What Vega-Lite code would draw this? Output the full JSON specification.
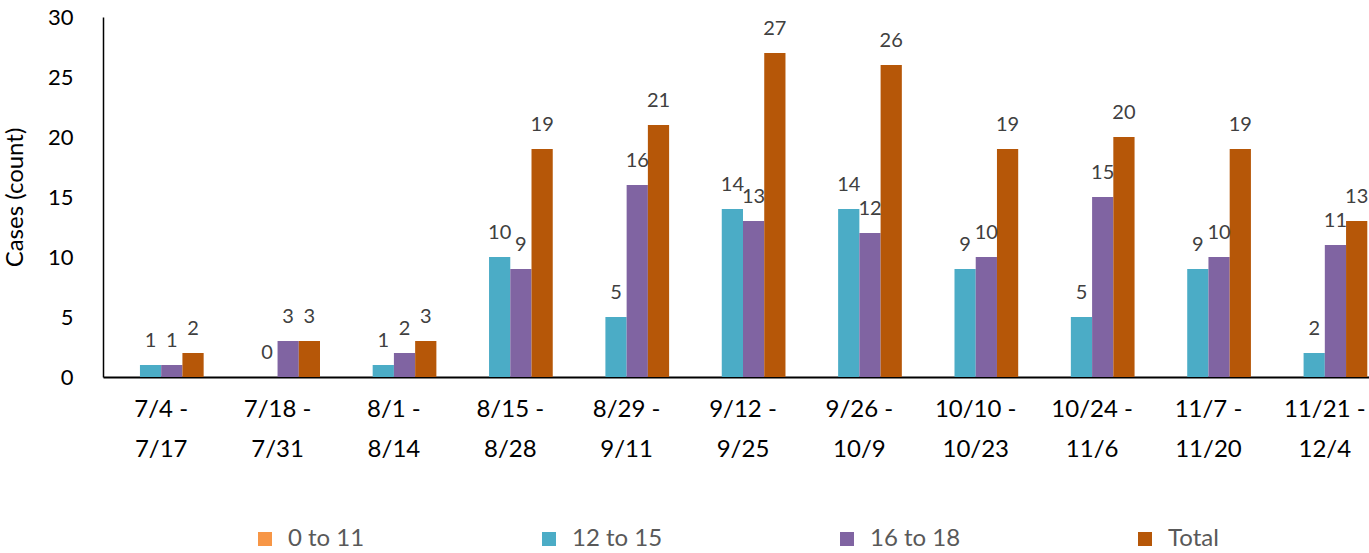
{
  "$schema": "https://vega.github.io/schema/vega-lite/v6.json",
  "width": 1266,
  "height": 360,
  "autosize": "none",
  "padding": {"left": 103, "top": 17, "right": 0, "bottom": 176},
  "background": "white",
  "config": {
    "font": "Lato",
    "view": {"stroke": null}
  },
  "data": {
    "values": [
      {"period": "7/4 - 7/17", "group": "0 to 11", "cases": null},
      {"period": "7/4 - 7/17", "group": "12 to 15", "cases": 1},
      {"period": "7/4 - 7/17", "group": "16 to 18", "cases": 1},
      {"period": "7/4 - 7/17", "group": "Total", "cases": 2},
      {"period": "7/18 - 7/31", "group": "0 to 11", "cases": null},
      {"period": "7/18 - 7/31", "group": "12 to 15", "cases": 0},
      {"period": "7/18 - 7/31", "group": "16 to 18", "cases": 3},
      {"period": "7/18 - 7/31", "group": "Total", "cases": 3},
      {"period": "8/1 - 8/14", "group": "0 to 11", "cases": null},
      {"period": "8/1 - 8/14", "group": "12 to 15", "cases": 1},
      {"period": "8/1 - 8/14", "group": "16 to 18", "cases": 2},
      {"period": "8/1 - 8/14", "group": "Total", "cases": 3},
      {"period": "8/15 - 8/28", "group": "0 to 11", "cases": null},
      {"period": "8/15 - 8/28", "group": "12 to 15", "cases": 10},
      {"period": "8/15 - 8/28", "group": "16 to 18", "cases": 9},
      {"period": "8/15 - 8/28", "group": "Total", "cases": 19},
      {"period": "8/29 - 9/11", "group": "0 to 11", "cases": null},
      {"period": "8/29 - 9/11", "group": "12 to 15", "cases": 5},
      {"period": "8/29 - 9/11", "group": "16 to 18", "cases": 16},
      {"period": "8/29 - 9/11", "group": "Total", "cases": 21},
      {"period": "9/12 - 9/25", "group": "0 to 11", "cases": null},
      {"period": "9/12 - 9/25", "group": "12 to 15", "cases": 14},
      {"period": "9/12 - 9/25", "group": "16 to 18", "cases": 13},
      {"period": "9/12 - 9/25", "group": "Total", "cases": 27},
      {"period": "9/26 - 10/9", "group": "0 to 11", "cases": null},
      {"period": "9/26 - 10/9", "group": "12 to 15", "cases": 14},
      {"period": "9/26 - 10/9", "group": "16 to 18", "cases": 12},
      {"period": "9/26 - 10/9", "group": "Total", "cases": 26},
      {"period": "10/10 - 10/23", "group": "0 to 11", "cases": null},
      {"period": "10/10 - 10/23", "group": "12 to 15", "cases": 9},
      {"period": "10/10 - 10/23", "group": "16 to 18", "cases": 10},
      {"period": "10/10 - 10/23", "group": "Total", "cases": 19},
      {"period": "10/24 - 11/6", "group": "0 to 11", "cases": null},
      {"period": "10/24 - 11/6", "group": "12 to 15", "cases": 5},
      {"period": "10/24 - 11/6", "group": "16 to 18", "cases": 15},
      {"period": "10/24 - 11/6", "group": "Total", "cases": 20},
      {"period": "11/7 - 11/20", "group": "0 to 11", "cases": null},
      {"period": "11/7 - 11/20", "group": "12 to 15", "cases": 9},
      {"period": "11/7 - 11/20", "group": "16 to 18", "cases": 10},
      {"period": "11/7 - 11/20", "group": "Total", "cases": 19},
      {"period": "11/21 - 12/4", "group": "0 to 11", "cases": null},
      {"period": "11/21 - 12/4", "group": "12 to 15", "cases": 2},
      {"period": "11/21 - 12/4", "group": "16 to 18", "cases": 11},
      {"period": "11/21 - 12/4", "group": "Total", "cases": 13}
    ]
  },
  "encoding": {
    "x": {
      "field": "period",
      "type": "nominal",
      "sort": null,
      "scale": {"range": [0, 1280], "paddingInner": 0.27, "paddingOuter": 0.135},
      "axis": {
        "title": null,
        "labelAngle": 0,
        "labelFontSize": 24,
        "labelColor": "#000000",
        "labelPadding": 20,
        "labelLineHeight": 40,
        "labelExpr": "[split(datum.value, ' - ')[0] + ' -', split(datum.value, ' - ')[1]]",
        "ticks": false,
        "domainColor": "#000000",
        "domainWidth": 2,
        "labelLimit": 200
      }
    },
    "xOffset": {
      "field": "group",
      "type": "nominal",
      "scale": {"domain": ["0 to 11", "12 to 15", "16 to 18", "Total"], "paddingInner": 0, "paddingOuter": 0}
    },
    "y": {
      "field": "cases",
      "type": "quantitative",
      "scale": {"domain": [0, 30]},
      "axis": {
        "title": "Cases (count)",
        "titleFontSize": 24,
        "titleFontWeight": "normal",
        "titleColor": "#000000",
        "titlePadding": 20,
        "values": [0, 5, 10, 15, 20, 25, 30],
        "labelFontSize": 22,
        "labelColor": "#000000",
        "labelPadding": 30,
        "ticks": false,
        "grid": false,
        "domainColor": "#000000",
        "domainWidth": 1.5
      }
    },
    "color": {
      "field": "group",
      "type": "nominal",
      "scale": {
        "domain": ["0 to 11", "12 to 15", "16 to 18", "Total"],
        "range": ["#F79646", "#4BACC6", "#8064A2", "#B65708"]
      },
      "legend": {
        "title": null,
        "orient": "none",
        "legendX": 150,
        "legendY": 510,
        "direction": "horizontal",
        "columns": 4,
        "columnPadding": 172,
        "symbolType": "square",
        "symbolSize": 196,
        "symbolStrokeWidth": 0,
        "symbolOpacity": 1,
        "labelFontSize": 24,
        "labelColor": "#595959",
        "labelOffset": 11
      }
    }
  },
  "layer": [
    {"mark": {"type": "bar", "opacity": 1}},
    {
      "transform": [{"filter": "datum.cases != null"}],
      "mark": {"type": "text", "baseline": "middle", "dy": -24, "fontSize": 20, "color": "#404040"},
      "encoding": {
        "text": {"field": "cases", "type": "quantitative"},
        "color": {"value": "#404040"}
      }
    }
  ]
}
